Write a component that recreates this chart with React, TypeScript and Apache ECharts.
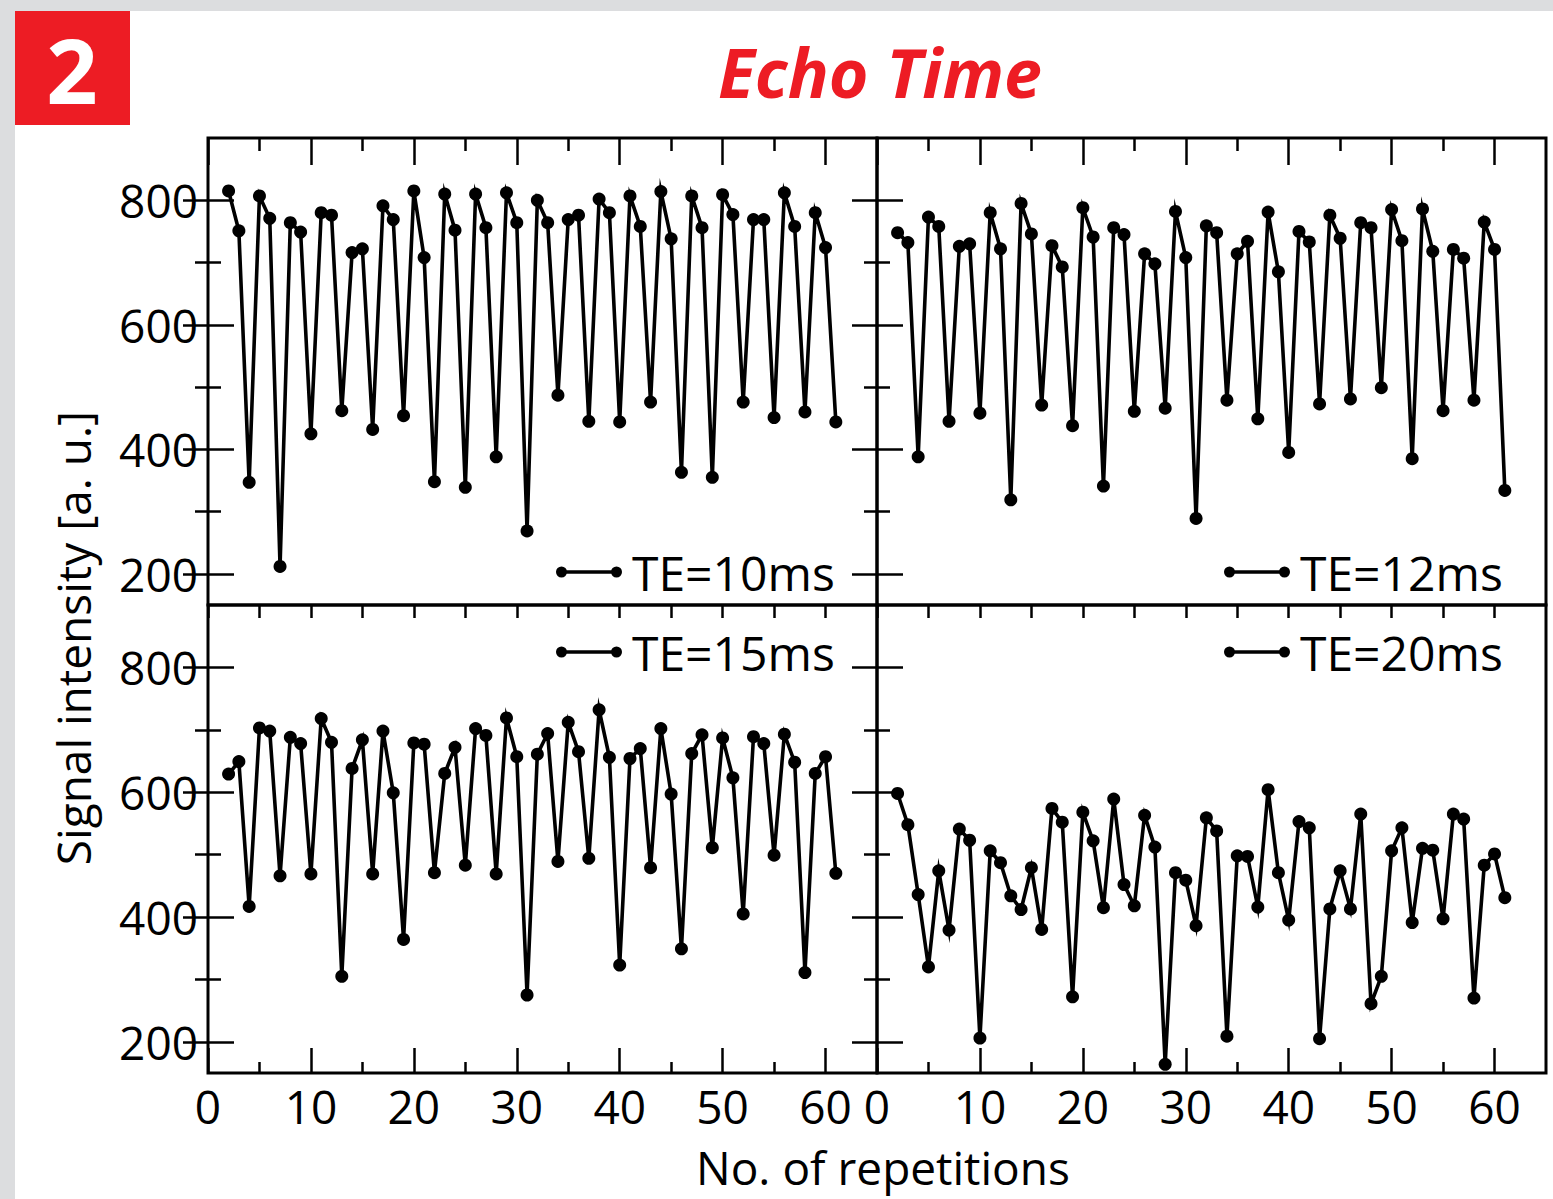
import React, { useEffect, useRef } from "react";
import * as echarts from "echarts";

// Repetition numbers (x values)
const REPS = [
  2, 3, 4, 5, 6, 7, 8, 9, 10, 11, 12, 13, 14, 15, 16, 17, 18, 19, 20, 21,
  22, 23, 24, 25, 26, 27, 28, 29, 30, 31, 32, 33, 34, 35, 36, 37, 38, 39, 40, 41,
  42, 43, 44, 45, 46, 47, 48, 49, 50, 51, 52, 53, 54, 55, 56, 57, 58, 59, 60, 61,
];

const TE10 = [
  815, 751, 347, 807, 771, 212, 764, 749, 425, 780, 776, 462, 716, 722, 432, 791, 769, 454, 815, 708,
  348, 810, 752, 339, 810, 756, 388, 812, 764, 269, 800, 764, 487, 769, 776, 445, 802, 780, 444, 807,
  758, 476, 814, 738, 363, 807, 756, 355, 809, 777, 476, 769, 769, 451, 812, 758, 460, 780, 724, 444,
];
const TE12 = [
  748, 732, 388, 773, 758, 445, 726, 730, 458, 780, 722, 319, 795, 746, 471, 727, 693, 438, 788, 741,
  341, 756, 745, 461, 714, 698, 466, 782, 708, 289, 759, 748, 479, 714, 734, 449, 781, 685, 395, 750,
  733, 473, 776, 739, 481, 764, 756, 499, 785, 735, 385, 786, 718, 462, 721, 707, 479, 765, 721, 334,
];
const TE15 = [
  629, 649, 417, 703, 698, 466, 688, 678, 469, 718, 680, 305, 638, 684, 469, 698, 599, 364, 679, 677,
  471, 630, 672, 483, 702, 691, 469, 719, 657, 275, 661, 694, 489, 712, 665, 494, 732, 656, 323, 654,
  670, 479, 702, 597, 349, 662, 692, 511, 687, 623, 405, 689, 678, 499, 693, 648, 311, 630, 657, 470,
];
const TE20 = [
  598, 548, 436, 320, 474, 379, 541, 523, 206, 506, 487, 434, 412, 479, 380, 574, 552, 272, 568, 522,
  415, 589, 452, 418, 563, 512, 164, 471, 459, 386, 559, 538, 209, 498, 497, 416, 604, 471, 395, 553,
  543, 205, 413, 474, 413, 565, 261, 305, 506, 543, 391, 510, 507, 397, 565, 557, 270, 483, 501, 431,
];

const SERIES_NAMES = ["TE=10ms", "TE=12ms", "TE=15ms", "TE=20ms"];
const SERIES_VALUES = [TE10, TE12, TE15, TE20];

const X_MAJOR = [0, 10, 20, 30, 40, 50, 60];
const X_MINOR = [5, 15, 25, 35, 45, 55];
const Y_MAJOR = [200, 400, 600, 800];
const Y_MINOR = [300, 500, 700];
const X_RANGE = [0, 65];
const Y_RANGE = [150, 900];

const TITLE = "Echo Time";
const PANEL_NUMBER = "2";
const X_NAME = "No. of repetitions";
const Y_NAME = "Signal intensity [a. u.]";

const FONT = '"Open Sans", "Noto Sans", "DejaVu Sans", sans-serif';
const RED = "#ed1c24";

// legend glyph: dot — line — dot
const LEGEND_ICON =
  "path://M0,5.5A5.5,5.5,0,1,1,11,5.5A5.5,5.5,0,1,1,0,5.5ZM55,5.5A5.5,5.5,0,1,1,66,5.5A5.5,5.5,0,1,1,55,5.5ZM5.5,3.8L60.5,3.8L60.5,7.2L5.5,7.2Z";

function buildOption() {
  const layout = [
    { left: 208, top: 138, width: 669, height: 467, xl: false, yl: true, top2: false, lgLeft: 556, lgTop: 548 },
    { left: 877, top: 138, width: 669, height: 467, xl: false, yl: false, top2: false, lgLeft: 1224, lgTop: 548 },
    { left: 208, top: 605, width: 669, height: 468, xl: true, yl: true, top2: true, lgLeft: 556, lgTop: 628 },
    { left: 877, top: 605, width: 669, height: 468, xl: true, yl: false, top2: true, lgLeft: 1224, lgTop: 628 },
  ];

  const grid: any[] = [];
  const xAxis: any[] = [];
  const yAxis: any[] = [];
  const series: any[] = [];
  const legend: any[] = [];

  const labelStyle = { fontSize: 46, fontFamily: FONT, color: "#000" };
  const tickLine = { color: "#000", width: 2.5 };

  layout.forEach((g, i) => {
    grid.push({
      left: g.left,
      top: g.top,
      width: g.width,
      height: g.height,
      show: true,
      borderColor: "#000",
      borderWidth: 3,
      backgroundColor: "transparent",
    });
    const mkX = (position: string, ticks: number[], len: number, label: boolean, showTicks = true) => ({
      type: "value",
      gridIndex: i,
      position,
      min: X_RANGE[0],
      max: X_RANGE[1],
      axisLine: { show: false },
      splitLine: { show: false },
      axisTick: { show: showTicks, inside: true, length: len, customValues: ticks, lineStyle: tickLine },
      axisLabel: label
        ? { show: true, customValues: X_MAJOR, margin: 10, ...labelStyle }
        : { show: false },
    });
    const mkY = (position: string, ticks: number[], len: number, label: boolean) => ({
      type: "value",
      gridIndex: i,
      position,
      min: Y_RANGE[0],
      max: Y_RANGE[1],
      axisLine: { show: false },
      splitLine: { show: false },
      axisTick: { show: true, inside: true, length: len, customValues: ticks, lineStyle: tickLine },
      axisLabel: label
        ? { show: true, customValues: Y_MAJOR, margin: 10, ...labelStyle }
        : { show: false },
    });
    // bottom axis: upper panels carry no ticks at the shared edge
    xAxis.push(mkX("bottom", X_MAJOR, 25, g.xl, g.xl));
    xAxis.push(mkX("bottom", X_MINOR, 11, false, g.xl));
    // top axis: upper panels long/short ticks, lower panels all short
    xAxis.push(mkX("top", X_MAJOR, g.top2 ? 13 : 27, false));
    xAxis.push(mkX("top", X_MINOR, 13, false));
    yAxis.push(mkY("left", Y_MAJOR, 26, g.yl));
    yAxis.push(mkY("left", Y_MINOR, 13, false));
    yAxis.push(mkY("right", Y_MAJOR, 25, false));
    yAxis.push(mkY("right", Y_MINOR, 13, false));

    series.push({
      type: "line",
      name: SERIES_NAMES[i],
      xAxisIndex: i * 4,
      yAxisIndex: i * 4,
      data: REPS.map((x, k) => [x, SERIES_VALUES[i][k]]),
      symbol: "circle",
      symbolSize: 13,
      itemStyle: { color: "#000" },
      lineStyle: { color: "#000", width: 3.6, join: "miter", miterLimit: 8 },
      emphasis: { disabled: true },
      z: 3,
    });

    legend.push({
      data: [SERIES_NAMES[i]],
      left: g.lgLeft,
      top: g.lgTop,
      orient: "horizontal",
      padding: 0,
      icon: LEGEND_ICON,
      itemWidth: 66,
      itemHeight: 11,
      selectedMode: false,
      textStyle: { fontSize: 48, lineHeight: 48, fontFamily: FONT, color: "#000", padding: [0, 0, 0, 5] },
    });
  });

  return {
    animation: false,
    backgroundColor: "transparent",
    title: {
      text: TITLE,
      left: 718,
      top: 37,
      padding: 0,
      textStyle: {
        color: RED,
        fontSize: 68,
        fontStyle: "italic",
        fontWeight: "bold",
        fontFamily: FONT,
      },
    },
    grid,
    xAxis,
    yAxis,
    legend,
    series,
    graphic: [
      {
        type: "rect",
        shape: { x: 15, y: 11, width: 115, height: 114 },
        style: { fill: RED },
        silent: true,
      },
      {
        type: "text",
        x: 72,
        y: 69,
        style: {
          text: PANEL_NUMBER,
          fill: "#fff",
          font: `bold 90px ${FONT}`,
          align: "center",
          verticalAlign: "middle",
        },
        silent: true,
      },
      {
        type: "text",
        x: 883,
        y: 1167,
        style: {
          text: X_NAME,
          fill: "#000",
          font: `46px ${FONT}`,
          align: "center",
          verticalAlign: "middle",
        },
        silent: true,
      },
      {
        type: "text",
        x: 73,
        y: 638,
        rotation: Math.PI / 2,
        style: {
          text: Y_NAME,
          fill: "#000",
          font: `46px ${FONT}`,
          align: "center",
          verticalAlign: "middle",
        },
        silent: true,
      },
    ],
  };
}

export default function App() {
  const ref = useRef<HTMLDivElement>(null);
  useEffect(() => {
    if (!ref.current) return;
    const chart = echarts.init(ref.current, undefined, { renderer: "svg" });
    chart.setOption(buildOption() as any);
    return () => chart.dispose();
  }, []);
  return (
    <div
      style={{
        position: "absolute",
        left: 0,
        top: 0,
        width: 1553,
        height: 1199,
        background:
          "linear-gradient(#dcdddf,#dcdddf) 0 0 / 100% 11px no-repeat, linear-gradient(#dcdddf,#dcdddf) 0 0 / 15px 100% no-repeat, #ffffff",
      }}
    >
      <div ref={ref} style={{ width: 1553, height: 1199 }} />
    </div>
  );
}
